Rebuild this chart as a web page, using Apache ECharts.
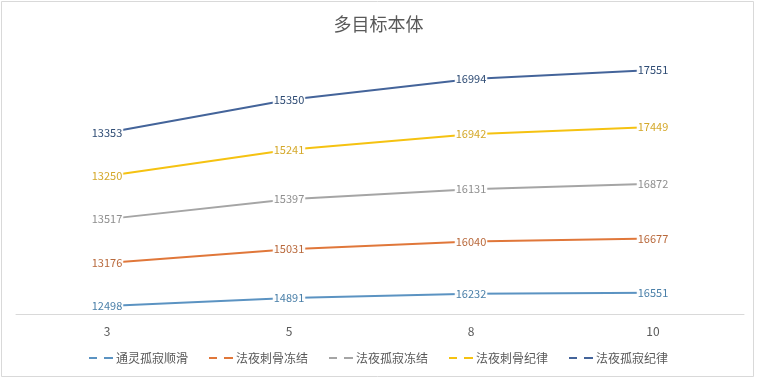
<!DOCTYPE html>
<html><head><meta charset="utf-8">
<script src="https://cdn.jsdelivr.net/npm/echarts@6/dist/echarts.min.js"></script>
<style>html,body{margin:0;padding:0;background:#fff}#c{width:757px;height:379px}</style>
</head><body><div id="c"></div>
<script>
var categories = ['3', '5', '8', '10'];
var seriesNames = ['通灵孤寂顺滑', '法夜刺骨冻结', '法夜孤寂冻结', '法夜刺骨纪律', '法夜孤寂纪律'];
var s1 = [12498, 14891, 16232, 16551];
var s2 = [13176, 15031, 16040, 16677];
var s3 = [13517, 15397, 16131, 16872];
var s4 = [13250, 15241, 16942, 17449];
var s5 = [13353, 15350, 16994, 17551];
var seriesData = [s1, s2, s3, s4, s5];
var lineColors = ['#5b93c2', '#e0773a', '#a5a5a5', '#f5c211', '#44649a'];
var labelColors = ['#4a7fa8', '#b8693c', '#8f8f8f', '#d4a82a', '#2f4c74'];

var font = '"Noto Sans CJK SC", "Noto Sans", sans-serif';
var chart = echarts.init(document.getElementById('c'), null, {renderer: 'canvas'});
var series = seriesData.map(function (d, i) {
  return {
    name: seriesNames[i],
    type: 'line',
    stack: 'total',
    data: d,
    showSymbol: true,
    symbol: 'circle',
    symbolSize: 0,
    lineStyle: {width: 2, color: lineColors[i]},
    itemStyle: {color: lineColors[i]},
    label: {
      show: true,
      position: 'inside',
      color: labelColors[i],
      fontSize: 11,
      fontFamily: font,
      backgroundColor: 'rgba(255,255,255,0.95)',
      padding: [1, 1, 1, 1]
    },
    emphasis: {disabled: true},
    animation: false
  };
});
chart.setOption({
  animation: false,
  backgroundColor: '#fff',
  title: {
    text: '多目标本体',
    left: 'center',
    top: 10,
    textStyle: {fontSize: 18, fontWeight: 'normal', color: '#595959', fontFamily: font}
  },
  graphic: [{
    type: 'rect',
    shape: {x: 1.5, y: 1.5, width: 752, height: 375},
    style: {fill: 'none', stroke: '#d9d9d9', lineWidth: 1},
    silent: true
  }],
  legend: {
    bottom: 10,
    left: 'center',
    itemWidth: 24,
    itemHeight: 3,
    itemGap: 21,
    icon: 'path://M0,0h8v2h-8z M15,0h9v2h-9z',
    textStyle: {color: '#595959', fontSize: 12, fontFamily: font, padding: [0, 0, 0, -2]},
    data: seriesNames
  },
  grid: {left: 16, right: 13, top: 54, bottom: 65, containLabel: false},
  xAxis: {
    type: 'category',
    data: categories,
    boundaryGap: true,
    axisLine: {lineStyle: {color: '#d9d9d9', width: 1}},
    axisTick: {show: false},
    axisLabel: {color: '#595959', fontSize: 12, margin: 11, fontFamily: font}
  },
  yAxis: {
    type: 'value',
    min: 10000,
    max: 90000,
    show: false,
    splitLine: {show: false}
  },
  series: series
});
</script>
</body></html>
